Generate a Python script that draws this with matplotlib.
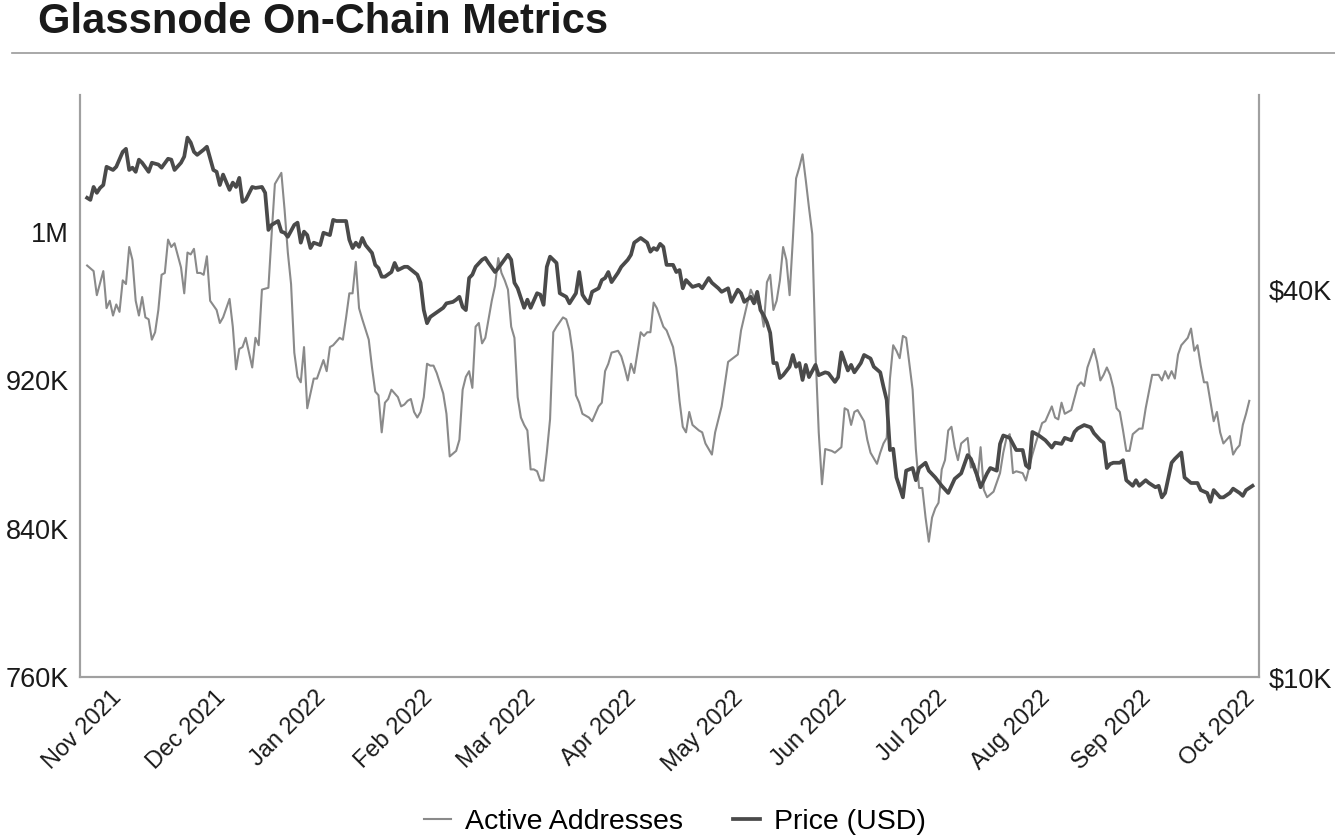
import matplotlib.pyplot as plt
from matplotlib.lines import Line2D
from matplotlib.ticker import NullLocator

plt.rcParams['font.family'] = ['Liberation Sans', 'DejaVu Sans']

# ----------------------------
# Data (day offsets from start of series)
# ----------------------------
aa_day = [0, 2, 3, 5, 6, 7, 8, 9, 10, 11, 12, 13, 14, 15, 16, 17, 18, 19, 20, 21, 22, 23, 24, 25, 26, 27, 29, 30,
          31, 32, 33, 34, 35, 36, 37, 38, 40, 41, 42, 44, 45, 46, 47, 48, 49, 50, 51, 52, 53, 54, 56, 57, 58, 60,
          61, 62, 63, 64, 65, 66, 67, 68, 69, 70, 71, 73, 74, 75, 76, 78, 79, 80, 81, 82, 83, 84, 85, 87, 88, 89,
          90, 91, 92, 93, 94, 95, 96, 97, 98, 99, 100, 101, 102, 103, 104, 105, 106, 107, 108, 110, 111, 112, 114,
          115, 116, 117, 118, 119, 120, 121, 122, 123, 125, 126, 127, 128, 129, 130, 131, 132, 133, 134, 135, 136,
          137, 138, 139, 140, 141, 142, 143, 144, 145, 147, 148, 149, 150, 151, 152, 153, 154, 155, 156, 158, 159,
          160, 161, 162, 164, 165, 166, 167, 168, 169, 170, 171, 172, 173, 174, 175, 176, 178, 179, 181, 182, 183,
          184, 185, 186, 187, 189, 190, 191, 193, 194, 196, 198, 201, 202, 204, 205, 206, 207, 208, 209, 210, 211,
          212, 213, 214, 215, 216, 217, 218, 219, 220, 221, 222, 223, 224, 225, 226, 227, 228, 230, 231, 233, 234,
          235, 236, 237, 238, 239, 240, 241, 242, 244, 245, 246, 247, 248, 249, 250, 251, 252, 253, 255, 256, 257,
          258, 259, 260, 261, 262, 263, 264, 265, 266, 267, 268, 269, 270, 272, 273, 274, 275, 276, 277, 278, 280,
          281, 282, 283, 284, 285, 286, 287, 289, 290, 292, 293, 295, 296, 298, 299, 300, 301, 302, 304, 306, 307,
          308, 309, 311, 312, 313, 314, 315, 316, 317, 318, 319, 320, 321, 322, 323, 325, 326, 327, 329, 331, 332,
          333, 334, 335, 336, 337, 338, 340, 341, 342, 343, 344, 345, 346, 348, 349, 350, 351, 352, 353, 354, 355,
          356, 357, 358, 359]
aa_k = [982, 979, 966, 979, 959, 963, 955, 961, 957, 974, 972, 992, 985, 963, 955, 965, 954, 953, 942, 946, 958,
        977, 978, 996, 992, 994, 981, 967, 989, 988, 991, 978, 978, 977, 987, 963, 958, 951, 954, 964, 949, 926,
        937, 938, 943, 935, 927, 943, 939, 969, 970, 999, 1026, 1032, 1012, 989, 972, 935, 922, 919, 938, 905,
        913, 921, 921, 931, 925, 938, 939, 943, 942, 954, 967, 967, 984, 959, 953, 942, 927, 914, 912, 892, 908,
        910, 915, 913, 911, 906, 907, 909, 910, 903, 900, 903, 911, 929, 928, 928, 924, 913, 902, 879, 882, 888,
        915, 922, 925, 916, 949, 951, 940, 943, 963, 971, 986, 978, 974, 969, 949, 943, 911, 900, 896, 893, 872,
        872, 871, 866, 866, 881, 899, 946, 949, 954, 953, 947, 935, 912, 908, 902, 901, 900, 898, 906, 908, 925,
        929, 935, 936, 933, 927, 920, 929, 924, 935, 946, 944, 946, 946, 962, 959, 949, 947, 938, 927, 909, 895,
        892, 903, 896, 893, 892, 886, 880, 892, 906, 930, 934, 947, 962, 969, 965, 962, 960, 949, 973, 977, 958,
        963, 974, 992, 985, 966, 996, 1029, 1035, 1042, 1028, 1013, 999, 935, 892, 864, 883, 882, 881, 884, 905,
        904, 896, 903, 904, 901, 898, 888, 881, 875, 881, 886, 889, 921, 939, 936, 932, 944, 943, 915, 883, 862,
        862, 846, 833, 846, 851, 854, 872, 877, 893, 895, 884, 877, 886, 889, 873, 875, 866, 884, 861, 857, 860,
        865, 870, 881, 889, 891, 870, 871, 870, 866, 880, 886, 897, 898, 906, 900, 899, 908, 902, 904, 917, 919,
        917, 927, 937, 930, 920, 923, 927, 923, 916, 905, 903, 893, 882, 882, 891, 894, 894, 905, 923, 923, 920,
        925, 921, 925, 921, 934, 939, 943, 948, 936, 939, 928, 919, 919, 898, 903, 892, 886, 888, 890, 880, 883,
        885, 896, 902, 909]

px_day = [0, 1, 2, 3, 4, 5, 6, 8, 9, 11, 12, 13, 14, 15, 16, 17, 19, 20, 22, 23, 25, 26, 27, 29, 30, 31, 32, 33,
          34, 36, 37, 39, 40, 41, 42, 44, 45, 46, 47, 48, 49, 51, 52, 54, 55, 56, 57, 59, 60, 61, 62, 64, 65, 66,
          67, 68, 69, 70, 72, 73, 75, 76, 77, 80, 81, 82, 83, 84, 85, 86, 88, 89, 90, 91, 92, 94, 95, 96, 98, 99,
          101, 102, 103, 104, 105, 106, 108, 110, 111, 113, 114, 115, 116, 117, 118, 119, 120, 122, 123, 124, 126,
          127, 130, 131, 132, 133, 135, 136, 137, 139, 140, 141, 142, 143, 145, 146, 148, 149, 151, 152, 153, 154,
          155, 156, 158, 159, 160, 161, 162, 164, 165, 167, 168, 169, 171, 173, 174, 175, 176, 177, 178, 179, 181,
          182, 183, 184, 185, 187, 189, 190, 192, 193, 195, 196, 198, 199, 201, 202, 203, 205, 206, 207, 208, 209,
          210, 211, 212, 213, 214, 215, 217, 218, 219, 220, 221, 222, 223, 225, 226, 228, 229, 231, 232, 233, 235,
          236, 237, 239, 240, 242, 243, 245, 246, 247, 248, 249, 250, 252, 253, 255, 256, 257, 259, 260, 262, 264,
          266, 268, 270, 272, 273, 275, 276, 278, 279, 281, 282, 283, 285, 287, 289, 290, 291, 292, 294, 296, 298,
          299, 301, 302, 304, 305, 306, 308, 310, 311, 313, 314, 315, 316, 317, 319, 320, 321, 323, 324, 325, 327,
          328, 330, 331, 332, 333, 335, 336, 338, 339, 340, 341, 343, 344, 346, 347, 348, 350, 351, 353, 354, 356,
          357, 358, 360]
px_usd = [55400, 55000, 57600, 56400, 57400, 58000, 61900, 61200, 61900, 65300, 66000, 61200, 61700, 60800,
          63500, 62800, 60800, 62800, 62400, 61700, 63700, 63500, 61200, 62800, 64200, 68700, 67500, 65300, 64600,
          65800, 66500, 61200, 60800, 58000, 60200, 57000, 58500, 57600, 59500, 54600, 55000, 57600, 57400, 57600,
          56400, 49400, 50300, 51000, 49100, 48900, 48200, 50300, 50700, 47200, 49100, 48500, 46300, 47200, 46800,
          48900, 48500, 51200, 51000, 51000, 47700, 46300, 47200, 46500, 48000, 46800, 45500, 43600, 43100, 41800,
          41800, 42500, 43900, 42800, 43300, 43300, 42500, 42100, 40900, 37100, 35400, 36200, 36800, 37400, 38000,
          38200, 38500, 38900, 37500, 37100, 41600, 42100, 43300, 44400, 44700, 43900, 42500, 43100, 45200, 44400,
          40900, 40100, 37400, 38500, 37400, 39400, 39200, 37800, 43300, 44900, 43900, 39400, 38900, 38000, 39400,
          42500, 39200, 38500, 38000, 39600, 40100, 41300, 41600, 42500, 41000, 42400, 43300, 44400, 45200, 47200,
          48000, 47200, 45700, 46300, 46000, 47000, 46500, 43600, 43600, 42500, 42800, 40100, 41300, 40300, 40600,
          40100, 41600, 40900, 40100, 39600, 40100, 38200, 39900, 39400, 38200, 38900, 38000, 39600, 37100, 36400,
          35500, 34200, 30700, 30700, 29100, 29400, 30300, 31600, 30300, 30700, 28900, 30500, 29200, 30500, 29400,
          29700, 29600, 28700, 29200, 31900, 29900, 30500, 29700, 30700, 31600, 31200, 30300, 29700, 28200, 26900,
          22500, 22600, 20400, 19000, 20900, 21100, 20200, 21100, 21500, 20900, 20400, 19800, 19300, 20300, 20700,
          22100, 21800, 20500, 19700, 20700, 21100, 20900, 23000, 23700, 23500, 22500, 22500, 21300, 21100, 24000,
          23700, 23300, 22700, 23100, 23000, 23500, 23300, 24000, 24300, 24600, 24400, 23900, 23300, 23100, 21100,
          21400, 21500, 21500, 21700, 20200, 19800, 20200, 19800, 20200, 20000, 19700, 19800, 19000, 19300, 21500,
          21800, 22300, 20400, 20200, 20000, 20000, 19500, 19300, 18700, 19500, 19000, 19000, 19300, 19600, 19300,
          19100, 19500, 19800]

months = ["Nov 2021", "Dec 2021", "Jan 2022", "Feb 2022", "Mar 2022", "Apr 2022",
          "May 2022", "Jun 2022", "Jul 2022", "Aug 2022", "Sep 2022", "Oct 2022"]
month_day = [12, 44, 75, 108, 140, 171, 204, 236, 267, 299, 330, 362]

aa_val = [v * 1000 for v in aa_k]

# ----------------------------
# Figure
# ----------------------------
W, H = 1335, 839
fig = plt.figure(figsize=(W / 100, H / 100), dpi=100)
ax = fig.add_axes([80 / W, 1 - 677 / H, (1259 - 80) / W, (677 - 95) / H])
ax2 = ax.twinx()

l1, = ax.plot(aa_day, aa_val, color='#8a8a8a', lw=1.5, label='Active Addresses')
l2, = ax2.plot(px_day, px_usd, color='#4a4a4a', lw=2.7, label='Price (USD)')

ax.set_xlim(-2.2, 362)
ax.set_ylim(760000, 1074000)
ax.set_yticks([760000, 840000, 920000, 1000000], ['760K', '840K', '920K', '1M'])

ax2.set_yscale('log')
ax2.set_ylim(10000, 80000)
ax2.set_yticks([10000, 40000], ['$10K', '$40K'])
ax2.yaxis.set_minor_locator(NullLocator())

ax.set_xticks(month_day)
ax.set_xticklabels(months, rotation=45, ha='right')

for a in (ax, ax2):
    a.tick_params(length=0, labelsize=19.5, colors='#1a1a1a')
    a.spines['top'].set_visible(False)
    for s in ('left', 'right', 'bottom'):
        a.spines[s].set_color('#a0a0a0')
        a.spines[s].set_linewidth(1.5)
ax.tick_params(axis='x', pad=7, labelsize=17)
ax.tick_params(axis='y', pad=8)
ax2.tick_params(axis='y', pad=7)

# title + rule
fig.text(38 / W, 1 - 22 / H, 'Glassnode On-Chain Metrics', fontsize=30, fontweight='bold',
         va='center', ha='left', color='#1a1a1a')
fig.add_artist(Line2D([12 / W, 1], [1 - 53 / H, 1 - 53 / H], color='#999999', lw=1.2))

fig.legend(handles=[l1, l2], loc='center', bbox_to_anchor=(675 / W, 1 - 822 / H), ncol=2,
           frameon=False, fontsize=20.5, handlelength=0.95, columnspacing=1.75, handletextpad=0.5)

fig.savefig('out.png', dpi=100)
